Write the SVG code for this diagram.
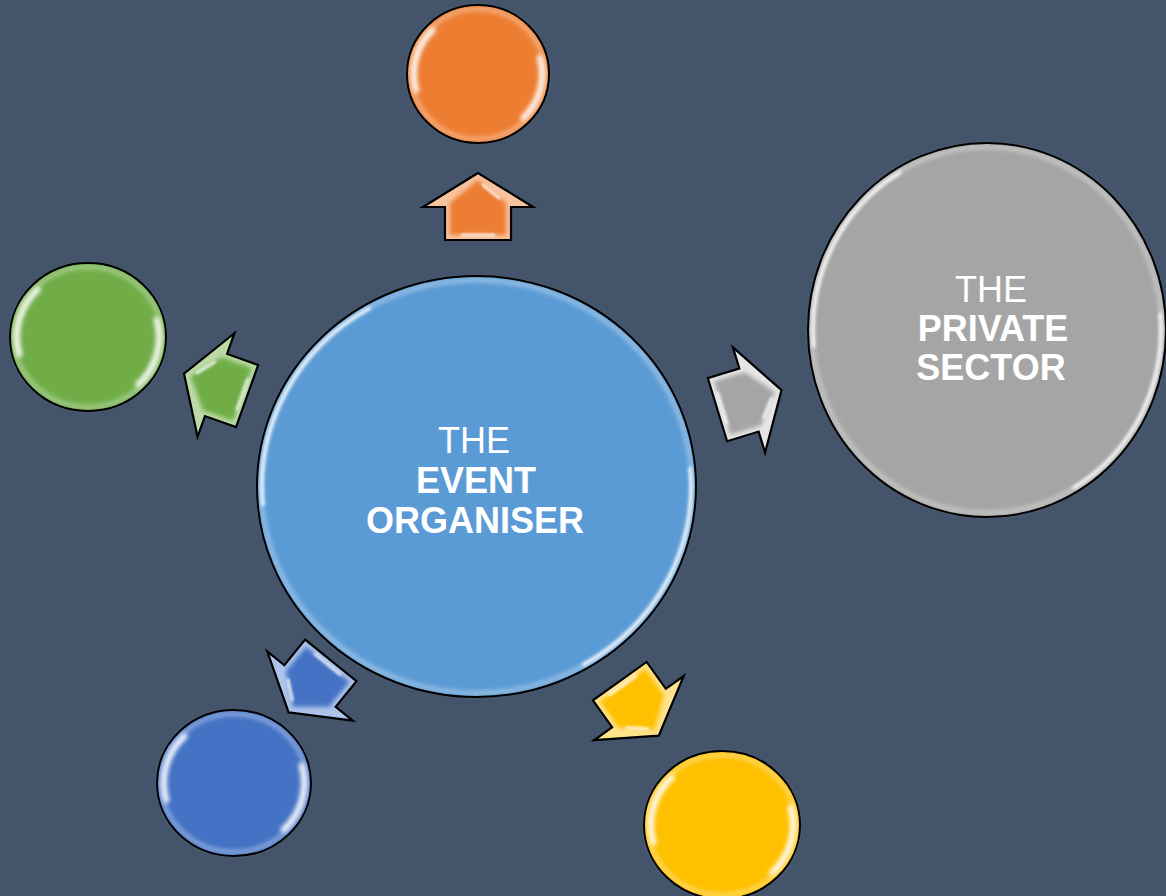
<svg xmlns="http://www.w3.org/2000/svg" width="1166" height="896" viewBox="0 0 1166 896">
<defs>
<style>
.rim{fill:none;stroke:#000;stroke-width:2}
.glow{fill:none;stroke:#fff;stroke-opacity:0.4;stroke-width:4}
.hl{fill:none;stroke:#fff;stroke-opacity:0.9;stroke-width:6;stroke-linecap:round}
.hlb{fill:none;stroke:#fff;stroke-opacity:0.85;stroke-width:3.5;stroke-linecap:round}
.lbl{font-family:"Liberation Sans",Arial,sans-serif;font-size:36px;fill:#fff;text-anchor:middle}
.b{font-weight:bold}
.ao{stroke:#000;stroke-width:2.2;stroke-linejoin:miter}
.streak{fill:none;stroke:#fff;stroke-opacity:0.75;stroke-width:3;stroke-linecap:round}
</style>
<filter id="soft" filterUnits="userSpaceOnUse" x="0" y="0" width="1166" height="896"><feGaussianBlur stdDeviation="2.2"/></filter>
<filter id="soft1" filterUnits="userSpaceOnUse" x="0" y="0" width="1166" height="896"><feGaussianBlur stdDeviation="1.4"/></filter>
<filter id="asoft" x="-30%" y="-30%" width="160%" height="160%"><feGaussianBlur stdDeviation="2"/></filter>
<filter id="ssoft" x="-50%" y="-50%" width="200%" height="200%"><feGaussianBlur stdDeviation="1"/></filter>
<path id="arrowOuter" d="M34,0 L0,-55 L0,-33 L-33,-33 L-33,33 L0,33 L0,55 Z"/>
<path id="arrowInner" d="M27,0 L4,-28 L-28,-28 L-28,28 L4,28 Z"/>
<path id="arrowStreak" d="M22,5 L9,21 M-28,-16 L-28,16"/>
</defs>
<rect width="1166" height="896" fill="#44546A"/>

<g id="connectors">
  <g id="arrow-orange" transform="translate(478,207) rotate(-90)">
    <use href="#arrowOuter" class="ao" fill="#F9C39D"/>
    <use href="#arrowInner" fill="#ED7D31" filter="url(#asoft)"/>
    <use href="#arrowStreak" class="streak" filter="url(#ssoft)"/>
  </g>
  <g id="arrow-green" transform="translate(216,385) rotate(199.6)">
    <use href="#arrowOuter" class="ao" fill="#BCDAA6"/>
    <use href="#arrowInner" fill="#70AD47" filter="url(#asoft)"/>
    <use href="#arrowStreak" class="streak" filter="url(#ssoft)"/>
  </g>
  <g id="arrow-gray" transform="translate(749,400) rotate(-17)">
    <use href="#arrowOuter" class="ao" fill="#E6E6E6"/>
    <use href="#arrowInner" fill="#A5A5A5" filter="url(#asoft)"/>
    <use href="#arrowStreak" class="streak" filter="url(#ssoft)"/>
  </g>
  <g id="arrow-blue" transform="translate(310,686) rotate(129)">
    <use href="#arrowOuter" class="ao" fill="#AFC4EA"/>
    <use href="#arrowInner" fill="#4472C4" filter="url(#asoft)"/>
    <use href="#arrowStreak" class="streak" filter="url(#ssoft)"/>
  </g>
  <g id="arrow-yellow" transform="translate(639,708) rotate(54.4)">
    <use href="#arrowOuter" class="ao" fill="#FFE28C"/>
    <use href="#arrowInner" fill="#FFC000" filter="url(#asoft)"/>
    <use href="#arrowStreak" class="streak" filter="url(#ssoft)"/>
  </g>
</g>

<g id="node-orange">
  <ellipse cx="478" cy="74" rx="71" ry="69" fill="#ED7D31"/>
  <ellipse cx="478" cy="74" rx="67" ry="65" class="glow" filter="url(#soft)"/>
  <path class="hl" filter="url(#soft)" d="M416.2 90 A64 62 0 0 1 432.7 30.2"/>
  <path class="hl" filter="url(#soft)" d="M539.8 58 A64 62 0 0 1 523.3 117.8"/>
  <ellipse cx="478" cy="74" rx="71" ry="69" class="rim"/>
</g>

<g id="node-green">
  <ellipse cx="88" cy="337" rx="78" ry="74" fill="#70AD47"/>
  <ellipse cx="88" cy="337" rx="74" ry="70" class="glow" filter="url(#soft)"/>
  <path class="hl" filter="url(#soft)" d="M19.4 354.3 A71 67 0 0 1 37.8 289.6"/>
  <path class="hl" filter="url(#soft)" d="M156.6 319.7 A71 67 0 0 1 138.2 384.4"/>
  <ellipse cx="88" cy="337" rx="78" ry="74" class="rim"/>
</g>

<g id="node-blue">
  <ellipse cx="234" cy="783" rx="77" ry="73" fill="#4472C4"/>
  <ellipse cx="234" cy="783" rx="73" ry="69" class="glow" filter="url(#soft)"/>
  <path class="hl" filter="url(#soft)" d="M166.4 800.1 A70 66 0 0 1 184.5 736.3"/>
  <path class="hl" filter="url(#soft)" d="M301.6 765.9 A70 66 0 0 1 283.5 829.7"/>
  <ellipse cx="234" cy="783" rx="77" ry="73" class="rim"/>
</g>

<g id="node-yellow">
  <ellipse cx="722" cy="825" rx="78" ry="74" fill="#FFC000"/>
  <ellipse cx="722" cy="825" rx="74" ry="70" class="glow" filter="url(#soft)"/>
  <path class="hl" filter="url(#soft)" d="M653.4 842.3 A71 67 0 0 1 671.8 777.6"/>
  <path class="hl" filter="url(#soft)" d="M790.6 807.7 A71 67 0 0 1 772.2 872.4"/>
  <ellipse cx="722" cy="825" rx="78" ry="74" class="rim"/>
</g>

<g id="node-private">
  <ellipse cx="987" cy="330" rx="179" ry="187" fill="#A5A5A5"/>
  <ellipse cx="987" cy="330" rx="175" ry="183" class="glow" filter="url(#soft)"/>
  <path class="hlb" filter="url(#soft1)" d="M813.7 345.9 A174 182 0 0 1 900 172.4"/>
  <path class="hlb" filter="url(#soft1)" d="M1160.3 314.1 A174 182 0 0 1 1074 487.6"/>
  <ellipse cx="987" cy="330" rx="179" ry="187" class="rim"/>
  <text class="lbl" x="991" y="302">THE</text>
  <text class="lbl b" x="993" y="341">PRIVATE</text>
  <text class="lbl b" x="991" y="380">SECTOR</text>
</g>

<g id="node-center">
  <ellipse cx="476.5" cy="486.5" rx="219.5" ry="210.5" fill="#5B9BD5"/>
  <ellipse cx="476.5" cy="486.5" rx="215.5" ry="206.5" class="glow" filter="url(#soft)"/>
  <path class="hlb" filter="url(#soft1)" d="M262.8 504.4 A214.5 205.5 0 0 1 369.2 308.5"/>
  <path class="hlb" filter="url(#soft1)" d="M690.2 468.6 A214.5 205.5 0 0 1 583.8 664.5"/>
  <ellipse cx="476.5" cy="486.5" rx="219.5" ry="210.5" class="rim"/>
  <text class="lbl" x="474" y="453">THE</text>
  <text class="lbl b" x="476" y="493">EVENT</text>
  <text class="lbl b" x="475" y="533">ORGANISER</text>
</g>
</svg>
